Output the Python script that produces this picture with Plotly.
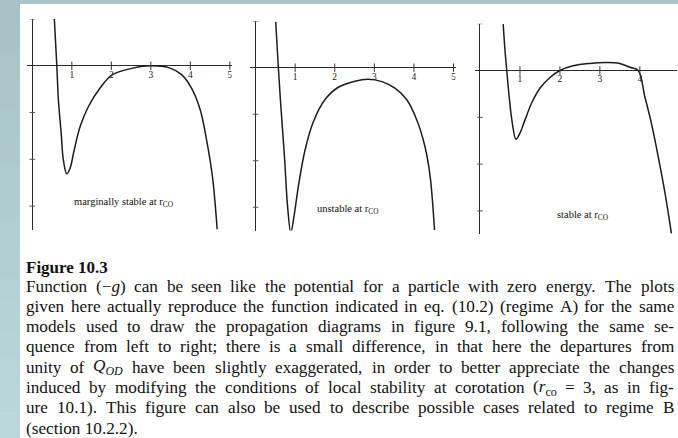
import re
import plotly.graph_objects as go

W, H = 678, 438

# ---- data: (-g) as a function of r for the three models -------------------
r_marginal = [0.557, 0.62, 0.66, 0.73, 0.785, 0.87, 0.955, 1.06, 1.21, 1.42, 1.71,
              2.03, 2.55, 3.0, 3.49, 3.78, 4.03, 4.25, 4.41, 4.56, 4.68]
g_marginal = [1.0, 0.0, -0.73, -1.44, -2.01, -2.31, -2.19, -1.8, -1.3, -0.87, -0.48,
              -0.19, -0.05, 0.0, -0.05, -0.19, -0.48, -0.94, -1.58, -2.37, -3.5]

r_unstable = [0.51, 0.55, 0.576, 0.64, 0.73, 0.81, 0.89, 0.97, 1.08, 1.25, 1.46, 1.75,
              2.09, 2.51, 2.85, 3.19, 3.52, 3.82, 4.07, 4.28, 4.41, 4.52]
g_unstable = [0.99, 0.38, 0.0, -0.84, -1.91, -2.99, -3.55, -3.2, -2.56, -1.77, -1.16, -0.69,
              -0.42, -0.29, -0.25, -0.3, -0.44, -0.69, -1.12, -1.7, -2.34, -3.49]

r_stable = [0.58, 0.625, 0.67, 0.73, 0.81, 0.9, 1.0, 1.125, 1.29, 1.5, 1.75, 2.0,
            2.33, 2.75, 3.17, 3.5, 3.75, 3.96, 4.125, 4.29, 4.46, 4.63, 4.79]
g_stable = [0.99, 0.44, 0.0, -0.56, -1.13, -1.47, -1.34, -1.06, -0.7, -0.38, -0.15, 0.0,
            0.1, 0.15, 0.17, 0.15, 0.07, 0.0, -0.56, -1.13, -1.84, -2.62, -3.48]

tick_r = [1, 2, 3, 4, 5]
tick_labels = ["1", "2", "3", "4", "5"]
ytick_vals = [1, -1, -2, -3]

panel_labels = ["marginally stable at r<sub>CO</sub>",
                "unstable at r<sub>CO</sub>",
                "stable at r<sub>CO</sub>"]
label_pos = [(2.3, -2.93), (2.34, -3.04), (2.56, -3.09)]

caption_title = "Figure 10.3"
caption_lines = [
    "Function (−<i>g</i>) can be seen like the potential for a particle with zero energy. The plots",
    "given here actually reproduce the function indicated in eq. (10.2) (regime A) for the same",
    "models used to draw the propagation diagrams in figure 9.1, following the same se-",
    "quence from left to right; there is a small difference, in that here the departures from",
    "unity of <i>Q</i><sub><i>OD</i></sub> have been slightly exaggerated, in order to better appreciate the changes",
    "induced by modifying the conditions of local stability at corotation (<i>r</i><sub>co</sub> = 3, as in fig-",
    "ure 10.1). This figure can also be used to describe possible cases related to regime B",
    "(section 10.2.2).",
]

# ---- panel geometry (pixels) ----------------------------------------------
# each panel: x range, y range, pixel box (left, right, top, bottom)
panels = [
    dict(xr=[-0.13, 5.05], yr=[-3.5, 1.0], box=(27.2, 231.8, 19.0, 229.5)),
    dict(xr=[-0.13, 5.05], yr=[-3.5, 1.0], box=(250.4, 455.5, 21.2, 230.5)),
    dict(xr=[-0.13, 4.93], yr=[-3.5, 1.0], box=(474.8, 677.0, 23.7, 234.3)),
]
curves = [(r_marginal, g_marginal), (r_unstable, g_unstable), (r_stable, g_stable)]

INK = "#1c1c1c"
SERIF = "Liberation Serif"

fig = go.Figure()
layout = dict(
    width=W, height=H, autosize=False,
    margin=dict(l=0, r=0, t=0, b=0, pad=0),
    paper_bgcolor="#aac6c9", plot_bgcolor="rgba(0,0,0,0)",
    showlegend=False, annotations=[], shapes=[],
)

for i, (p, (rr, gg)) in enumerate(zip(panels, curves)):
    n = "" if i == 0 else str(i + 1)
    l, r, t, b = p["box"]
    layout["xaxis" + n] = dict(
        domain=[l / W, r / W], range=p["xr"], anchor="y" + n,
        showgrid=False, showticklabels=False, ticks="", showline=False,
        zeroline=True, zerolinecolor="#2a2a2a", zerolinewidth=1, fixedrange=True)
    layout["yaxis" + n] = dict(
        domain=[1 - b / H, 1 - t / H], range=p["yr"], anchor="x" + n,
        showgrid=False, showticklabels=False, ticks="", showline=False,
        zeroline=True, zerolinecolor="#2a2a2a", zerolinewidth=1, fixedrange=True)

    xa, ya = "x" + n, "y" + n
    # curve of (-g)
    fig.add_trace(go.Scatter(
        x=rr, y=gg, mode="lines", xaxis=xa, yaxis=ya,
        line=dict(color=INK, width=1.5, shape="spline", smoothing=1.0),
        hoverinfo="skip"))
    # tick marks and numbers along the r axis (only those inside the panel)
    tr = [v for v in tick_r if v <= p["xr"][1]]
    tl = [s for v, s in zip(tick_r, tick_labels) if v <= p["xr"][1]]
    fig.add_trace(go.Scatter(
        x=tr, y=[0] * len(tr), mode="markers+text", xaxis=xa, yaxis=ya,
        marker=dict(symbol="line-ns", size=6, line=dict(width=1, color="#333")),
        text=tl, textposition="bottom center",
        textfont=dict(family=SERIF, size=9.5, color="#222"), hoverinfo="skip"))
    # small tick marks along the vertical axis
    fig.add_trace(go.Scatter(
        x=[0] * len(ytick_vals), y=ytick_vals, mode="markers", xaxis=xa, yaxis=ya,
        marker=dict(symbol="line-ew", size=4, line=dict(width=1, color="#555")),
        hoverinfo="skip"))
    layout["annotations"].append(dict(
        x=label_pos[i][0], y=label_pos[i][1], xref=xa, yref=ya,
        text=panel_labels[i], showarrow=False, xanchor="center", yanchor="middle",
        font=dict(family=SERIF, size=10.5, color="#111")))

# ---- page background -------------------------------------------------------
layout["shapes"].append(dict(type="rect", xref="paper", yref="paper",
                             x0=20 / W, x1=1, y0=0, y1=1 - 4 / H,
                             fillcolor="white", line=dict(width=0), layer="below"))
top_c, bot_c = (166, 194, 198), (186, 216, 220)
nb = 16
for k in range(nb):
    f = k / (nb - 1)
    c = tuple(round(a + (b_ - a) * f) for a, b_ in zip(top_c, bot_c))
    layout["shapes"].append(dict(
        type="rect", xref="paper", yref="paper", x0=0, x1=20 / W,
        y0=1 - (k + 1) / nb, y1=1 - k / nb,
        fillcolor="rgb(%d,%d,%d)" % c, line=dict(width=0), layer="below"))

# ---- caption (justified by word placement, Times metrics) ------------------
_lower = dict(zip("abcdefghijklmnopqrstuvwxyz",
                  [444, 500, 444, 500, 444, 333, 500, 500, 278, 278, 500, 278, 778,
                   500, 500, 500, 500, 333, 389, 278, 500, 500, 722, 500, 500, 444]))
_upper = dict(zip("ABCDEFGHIJKLMNOPQRSTUVWXYZ",
                  [722, 667, 667, 722, 611, 556, 722, 722, 333, 389, 722, 611, 889,
                   722, 722, 556, 722, 667, 556, 611, 722, 722, 944, 722, 722, 611]))
_misc = {" ": 250, ".": 250, ",": 250, ";": 278, ":": 278, "(": 333, ")": 333,
         "-": 333, "−": 564, "=": 564}
WIDTHS = {**_lower, **_upper, **_misc, **{d: 500 for d in "0123456789"}}


def text_width(markup, size):
    w, scale = 0.0, 1.0
    for tok in re.split(r"(<[^>]+>)", markup):
        if tok.startswith("<"):
            if tok == "<sub>":
                scale = 0.7
            elif tok == "</sub>":
                scale = 1.0
            continue
        for ch in tok:
            w += WIDTHS.get(ch, 500) * scale
    return w * size / 1000.0


BODY = 17.2
left_px, right_px = 25.0, 673.0
line0_px, step_px = 286.0, 20.3

layout["annotations"].append(dict(
    x=left_px / W, y=1 - 267 / H, xref="paper", yref="paper", text="<b>%s</b>" % caption_title,
    showarrow=False, xanchor="left", yanchor="middle", borderpad=0,
    font=dict(family=SERIF, size=17, color="#111")))

for li, line in enumerate(caption_lines):
    ypx = line0_px + li * step_px
    words = line.split(" ")
    if li == len(caption_lines) - 1:
        layout["annotations"].append(dict(
            x=left_px / W, y=1 - ypx / H, xref="paper", yref="paper", text=line,
            showarrow=False, xanchor="left", yanchor="middle", borderpad=0,
            font=dict(family=SERIF, size=BODY, color="#111")))
        continue
    ws = [text_width(w_, BODY) for w_ in words]
    gap = (right_px - left_px - sum(ws)) / (len(words) - 1)
    x = left_px
    for w_, wd in zip(words, ws):
        layout["annotations"].append(dict(
            x=x / W, y=1 - ypx / H, xref="paper", yref="paper", text=w_,
            showarrow=False, xanchor="left", yanchor="middle", borderpad=0,
            font=dict(family=SERIF, size=BODY, color="#111")))
        x += wd + gap

fig.update_layout(**layout)
fig.write_html("out.html")
